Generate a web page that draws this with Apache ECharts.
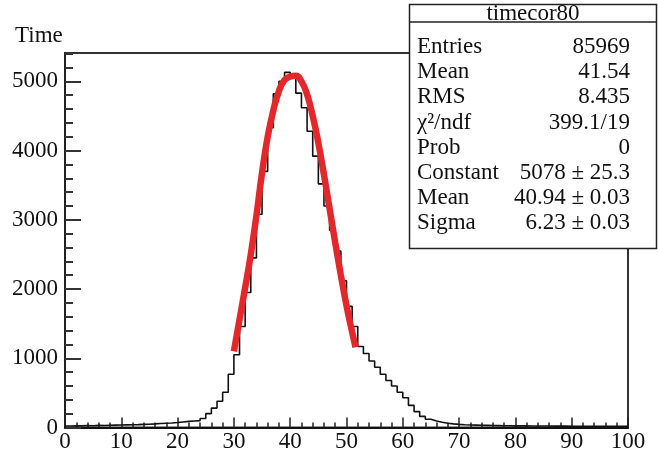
<!DOCTYPE html>
<html>
<head>
<meta charset="utf-8">
<script src="https://cdn.jsdelivr.net/npm/echarts@6/dist/echarts.min.js"></script>
<style>
  html, body { margin: 0; padding: 0; background: #fff; }
  #main { width: 659px; height: 455px; }
</style>
</head>
<body>
<div id="main"></div>
<script>
// histogram: one count per 1-unit bin, bins 0..99
var counts = [
  22, 25, 24, 28, 26, 30, 29, 32, 35, 36,
  38, 40, 42, 45, 48, 52, 58, 62, 66, 72,
  80, 88, 95, 100, 130, 200, 280, 380, 510, 770,
  1050, 1460, 1950, 2450, 3080, 3700, 4330, 4820, 5000, 5130,
  5080, 4830, 4620, 4280, 3920, 3520, 3200, 2850, 2550, 2120,
  1750, 1460, 1170, 1070, 960, 870, 770, 680, 600, 510,
  430, 320, 230, 160, 120, 95, 75, 62, 52, 45,
  40, 36, 34, 32, 30, 28, 27, 26, 25, 24,
  24, 23, 22, 22, 21, 21, 20, 20, 20, 19,
  19, 18, 18, 18, 17, 17, 17, 16, 16, 16
];
// gaussian fit curve
var fitX = [30, 31, 32, 33, 34, 35, 36, 37, 38, 39, 40, 41, 42, 43, 44, 45, 46, 47, 48, 49, 50, 51, 51.6];
var fitY = [1100, 1560, 2020, 2500, 3060, 3680, 4200, 4580, 4860, 5020, 5070, 5080, 5000, 4810, 4500, 4110, 3650, 3160, 2670, 2200, 1760, 1380, 1160];

var statsTitle = 'timecor80';
var statsLabels = ['Entries', 'Mean', 'RMS', 'χ²/ndf', 'Prob', 'Constant', 'Mean', 'Sigma'];
var statsValues = ['85969', '41.54', '8.435', '399.1/19', '0', '5078 ± 25.3', '40.94 ± 0.03', '6.23 ± 0.03'];

var font = 'Liberation Serif';

// step line points: left edge of each bin, plus closing edge
var histData = counts.map(function (v, i) { return [i, v]; });
histData.push([counts.length, counts[counts.length - 1]]);
var fitData = fitX.map(function (x, i) { return [x, fitY[i]]; });

// stats box graphics
var box = { left: 409.5, top: 4.5, width: 247, height: 244 };
var graphics = [
  { type: 'text', left: 15, top: 24, style: { text: 'Time', font: '23px "' + font + '"', fill: '#111' } },
  { type: 'rect', shape: { x: box.left, y: box.top, width: box.width, height: box.height },
    style: { fill: '#fff', stroke: '#222', lineWidth: 1.5 }, z: 100 },
  { type: 'line', shape: { x1: box.left, y1: 22, x2: box.left + box.width, y2: 22 },
    style: { stroke: '#222', lineWidth: 1.5 }, z: 101 },
  { type: 'text', x: box.left + box.width / 2, y: 13.5, z: 101,
    style: { text: statsTitle, font: '23px "' + font + '"', fill: '#111', align: 'center', verticalAlign: 'middle' } }
];
statsLabels.forEach(function (lab, i) {
  var y = 47 + i * 25.2;
  graphics.push({ type: 'text', x: 417, y: y, z: 101,
    style: { text: lab, font: '23px "' + font + '"', fill: '#111', align: 'left', verticalAlign: 'middle' } });
  graphics.push({ type: 'text', x: 630, y: y, z: 101,
    style: { text: statsValues[i], font: '23px "' + font + '"', fill: '#111', align: 'right', verticalAlign: 'middle' } });
});

var chart = echarts.init(document.getElementById('main'));
chart.setOption({
  animation: false,
  backgroundColor: '#fff',
  grid: { left: 65, right: 31, top: 53, bottom: 27.5, show: true, borderColor: '#333', borderWidth: 2 },
  xAxis: {
    type: 'value', min: 0, max: 100, interval: 10,
    axisLine: { lineStyle: { color: '#111', width: 2 } },
    axisTick: { inside: true, length: 10, lineStyle: { color: '#222', width: 1.5 } },
    minorTick: { show: true, splitNumber: 5, length: 5, lineStyle: { color: '#222', width: 1.5 } },
    axisLabel: { color: '#111', fontFamily: font, fontSize: 23, margin: 3 },
    splitLine: { show: false }
  },
  yAxis: {
    type: 'value', min: 0, max: 5410, interval: 1000,
    axisLine: { show: true, lineStyle: { color: '#222', width: 2 } },
    axisTick: { inside: true, length: 16, lineStyle: { color: '#333', width: 2 } },
    minorTick: { show: true, splitNumber: 5, length: 8, lineStyle: { color: '#333', width: 2 } },
    axisLabel: { color: '#111', fontFamily: font, fontSize: 23, margin: 7, showMaxLabel: false,
      formatter: function (v) { return v % 1000 === 0 ? String(v) : ''; } },
    splitLine: { show: false }
  },
  series: [
    {
      type: 'line', data: histData, step: 'end', symbol: 'none',
      lineStyle: { color: '#111', width: 1.6 }, z: 2
    },
    {
      type: 'line', data: fitData, smooth: true, symbol: 'none',
      lineStyle: { color: '#e3282b', width: 6.5 }, z: 3
    }
  ],
  graphic: graphics
});
</script>
</body>
</html>
